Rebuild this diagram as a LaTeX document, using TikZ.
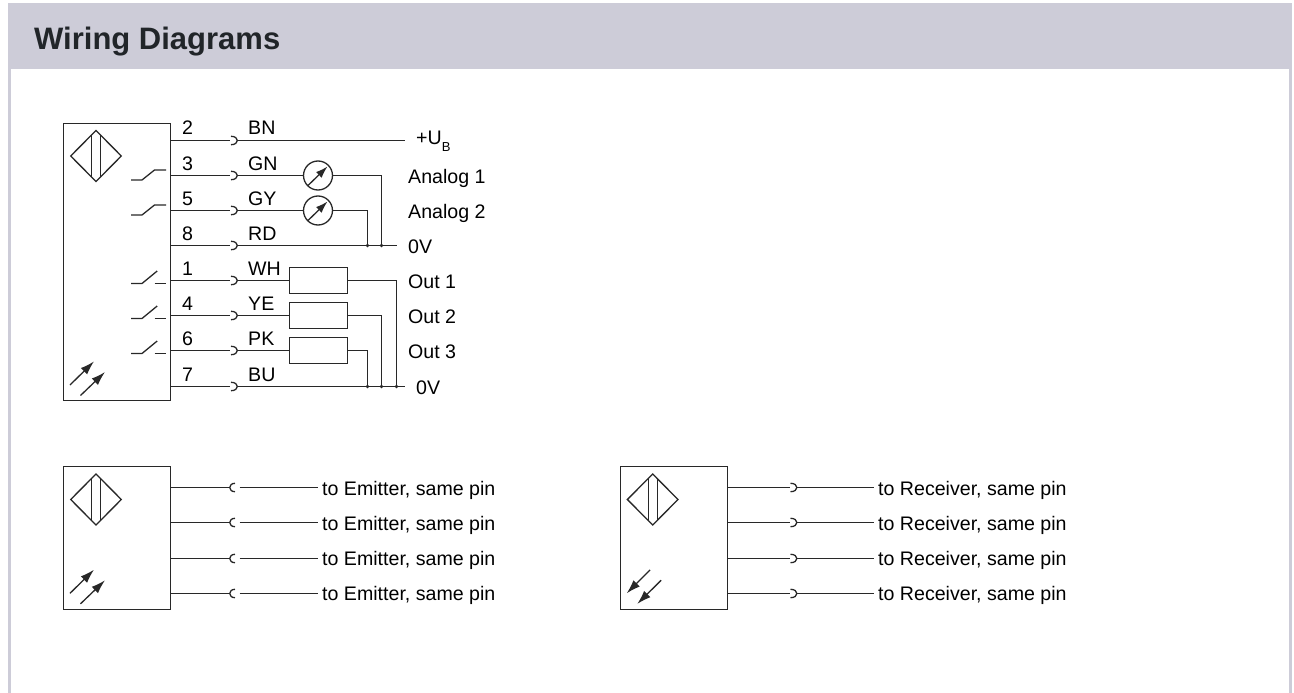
\documentclass[tikz,border=0pt]{standalone}
\usepackage{fontspec}
\setmainfont{Liberation Sans}
\usetikzlibrary{positioning,calc,arrows.meta}
\definecolor{headfill}{RGB}{205,204,216}
\definecolor{headtext}{RGB}{33,37,41}
\definecolor{wirecol}{RGB}{40,40,40}
\tikzset{
	lbl/.style={anchor=base west, inner sep=0pt, text=black, font=\fontsize{19.6}{22}\selectfont},
	sensorbox/.style={draw=wirecol, line width=1.3pt, rectangle, anchor=north west, inner sep=0pt, outer sep=0pt},
	loadbox/.style={draw=wirecol, line width=1.3pt, rectangle, minimum width=58pt, minimum height=26pt, inner sep=0pt},
	meter/.style={draw=wirecol, line width=1.3pt, circle, minimum size=29pt, inner sep=0pt},
	wire/.style={draw=wirecol, line width=1.3pt},
	dot/.style={fill=wirecol, circle, minimum size=3.6pt, inner sep=0pt},
	plugr/.pic={\draw[wire] (0,-4.2) .. controls (8.5,-4.2) and (8.5,4.2) .. (0,4.2);},
	plugl/.pic={\draw[wire] (0,-4.2) .. controls (-7,-4.2) and (-7,4.2) .. (0,4.2);},
	face/.pic={\draw[wire] (-25.3,0) -- (0,-25.5) -- (25.3,0) -- (0,25.5) -- cycle;
		\draw[wire] (-4.5,-20.8) -- (-4.5,20.8);
		\draw[wire] (4.5,-20.8) -- (4.5,20.8);},
	swclosed/.pic={\draw[wire] (-35,4.5) -- (-24,4.5) -- (-11.5,-5.5) -- (0,-5.5);},
	swopen/.pic={\draw[wire] (-35,3) -- (-24,3) -- (-8.8,-9.5);
		\draw[wire] (-11.5,3) -- (0,3);},
	raysout/.pic={\draw[wire,-{Latex[length=14pt,width=9pt]}] (0,0) -- (24,-23.6);
		\draw[wire,-{Latex[length=14pt,width=9pt]}] (10.5,10.5) -- (35,-13);},
	raysin/.pic={\draw[wire,{Latex[length=14pt,width=9pt]}-] (0,0) -- (23.4,-23.4);
		\draw[wire,{Latex[length=14pt,width=9pt]}-] (10.6,10.6) -- (34.4,-13);},
	needle/.pic={\draw[wire,-{Latex[length=12pt,width=8pt]}] (-10,10) -- (9.5,-9);}
}
\begin{document}
\begin{tikzpicture}[x=1pt, y=-1pt]
	\useasboundingbox (0,0) rectangle (1294,693);
	\fill[white] (0,0) rectangle (1294,693);
	\fill[headfill] (7.5,3.3) rectangle (11,693);
	\fill[headfill] (1288.5,3.3) rectangle (1292,693);
	\fill[headfill] (7.5,3.3) rectangle (1292,69);
	\node[anchor=base west, inner sep=0pt, text=headtext, font=\bfseries\fontsize{31}{33}\selectfont] (title) at (34,50) {Wiring Diagrams};

	\node[sensorbox, minimum width=107pt, minimum height=277pt] (main) at (63.5,123.5) {};
	\pic at (96,156) {face};
	\pic at (70,385) {raysout};
	\pic at (166,175.5) {swclosed};
	\pic at (166,210.5) {swclosed};
	\pic at (166,280.5) {swopen};
	\pic at (166,315.5) {swopen};
	\pic at (166,350.5) {swopen};

	\coordinate (p2) at (170.5,140.5);
	\coordinate (p3) at (170.5,175.5);
	\coordinate (p5) at (170.5,210.5);
	\coordinate (p8) at (170.5,245.5);
	\coordinate (p1) at (170.5,280.5);
	\coordinate (p4) at (170.5,315.5);
	\coordinate (p6) at (170.5,350.5);
	\coordinate (p7) at (170.5,386.5);
	\coordinate (u2) at (230,140.5);
	\coordinate (u3) at (230,175.5);
	\coordinate (u5) at (230,210.5);
	\coordinate (u8) at (230,245.5);
	\coordinate (u1) at (230,280.5);
	\coordinate (u4) at (230,315.5);
	\coordinate (u6) at (230,350.5);
	\coordinate (u7) at (230,386.5);
	\coordinate (v2) at (237.4,140.5);
	\coordinate (v3) at (237.4,175.5);
	\coordinate (v5) at (237.4,210.5);
	\coordinate (v8) at (237.4,245.5);
	\coordinate (v1) at (237.4,280.5);
	\coordinate (v4) at (237.4,315.5);
	\coordinate (v6) at (237.4,350.5);
	\coordinate (v7) at (237.4,386.5);

	\node[lbl] (n2) at (182,135) {2};
	\node[lbl] (n3) at (182,170) {3};
	\node[lbl] (n5) at (182,205) {5};
	\node[lbl] (n8) at (182,240) {8};
	\node[lbl] (n1) at (182,275) {1};
	\node[lbl] (n4) at (182,310.5) {4};
	\node[lbl] (n6) at (182,345.5) {6};
	\node[lbl] (n7) at (182,381) {7};

	\node[lbl] (bn) at (248,135) {BN};
	\node[lbl] (gn) at (248,170) {GN};
	\node[lbl] (gy) at (248,205) {GY};
	\node[lbl] (rd) at (248,240) {RD};
	\node[lbl] (wh) at (248,275) {WH};
	\node[lbl] (ye) at (248,310.5) {YE};
	\node[lbl] (pk) at (248,345.5) {PK};
	\node[lbl] (bu) at (248,381) {BU};

	\node[meter] (m1) at (318,175.5) {};
	\node[meter] (m2) at (318,210.5) {};
	\pic at (m1) {needle};
	\pic at (m2) {needle};
	\node[loadbox] (r1) at (318.5,280.5) {};
	\node[loadbox] (r2) at (318.5,315.5) {};
	\node[loadbox] (r3) at (318.5,350.5) {};

	\node[lbl] (ub) at (416,144) {+U\raisebox{-7.5pt}{\fontsize{13}{13}\selectfont B}};
	\node[lbl] (an1) at (408,183.5) {Analog 1};
	\node[lbl] (an2) at (408,218.5) {Analog 2};
	\node[lbl] (zero1) at (408,253.5) {0V};
	\node[lbl] (out1) at (408,288.5) {Out 1};
	\node[lbl] (out2) at (408,323.5) {Out 2};
	\node[lbl] (out3) at (408,358.5) {Out 3};
	\node[lbl] (zero2) at (416,394) {0V};

	\coordinate (e2) at (405,140.5);
	\coordinate (e8) at (397,245.5);
	\coordinate (e7) at (405,386.5);
	\node[dot] (t1) at (381.5,245.5) {};
	\node[dot] (t2) at (367.5,245.5) {};
	\node[dot] (t3) at (396.5,386.5) {};
	\node[dot] (t4) at (381.5,386.5) {};
	\node[dot] (t5) at (367.5,386.5) {};

	\draw[wire] (p2) -- (u2);
	\draw[wire] (p3) -- (u3);
	\draw[wire] (p5) -- (u5);
	\draw[wire] (p8) -- (u8);
	\draw[wire] (p1) -- (u1);
	\draw[wire] (p4) -- (u4);
	\draw[wire] (p6) -- (u6);
	\draw[wire] (p7) -- (u7);
	\draw[wire] (v2) -- (e2);
	\draw[wire] (v3) -- (m1);
	\draw[wire] (v5) -- (m2);
	\draw[wire] (v8) -- (e8);
	\draw[wire] (v1) -- (r1);
	\draw[wire] (v4) -- (r2);
	\draw[wire] (v6) -- (r3);
	\draw[wire] (v7) -- (e7);
	\draw[wire] (m1) -| (t1);
	\draw[wire] (m2) -| (t2);
	\draw[wire] (r1) -| (t3);
	\draw[wire] (r2) -| (t4);
	\draw[wire] (r3) -| (t5);
	\pic at (231,140.5) {plugr};
	\pic at (231,175.5) {plugr};
	\pic at (231,210.5) {plugr};
	\pic at (231,245.5) {plugr};
	\pic at (231,280.5) {plugr};
	\pic at (231,315.5) {plugr};
	\pic at (231,350.5) {plugr};
	\pic at (231,386.5) {plugr};

	\node[sensorbox, minimum width=107pt, minimum height=143pt] (emit) at (63.5,466.5) {};
	\pic at (96,499.5) {face};
	\pic at (70,593.3) {raysout};
	\coordinate (a1) at (170.5,487.5);
	\coordinate (a2) at (170.5,522.5);
	\coordinate (a3) at (170.5,558.5);
	\coordinate (a4) at (170.5,593.5);
	\coordinate (b1) at (230,487.5);
	\coordinate (b2) at (230,522.5);
	\coordinate (b3) at (230,558.5);
	\coordinate (b4) at (230,593.5);
	\coordinate (c1) at (239.5,487.5);
	\coordinate (c2) at (239.5,522.5);
	\coordinate (c3) at (239.5,558.5);
	\coordinate (c4) at (239.5,593.5);
	\node[lbl] (to1) at (322,495) {to Emitter, same pin};
	\node[lbl] (to2) at (322,530) {to Emitter, same pin};
	\node[lbl] (to3) at (322,565) {to Emitter, same pin};
	\node[lbl] (to4) at (322,600.5) {to Emitter, same pin};
	\draw[wire] (a1) -- (b1);
	\draw[wire] (a2) -- (b2);
	\draw[wire] (a3) -- (b3);
	\draw[wire] (a4) -- (b4);
	\draw[wire, shorten >=4pt] (c1) -- (c1 -| to1.west);
	\draw[wire, shorten >=4pt] (c2) -- (c2 -| to2.west);
	\draw[wire, shorten >=4pt] (c3) -- (c3 -| to3.west);
	\draw[wire, shorten >=4pt] (c4) -- (c4 -| to4.west);
	\pic at (235,487.5) {plugl};
	\pic at (235,522.5) {plugl};
	\pic at (235,558.5) {plugl};
	\pic at (235,593.5) {plugl};

	\node[sensorbox, minimum width=107pt, minimum height=143pt] (recv) at (620.5,466.5) {};
	\pic at (652.7,499.5) {face};
	\pic at (626.7,593.3) {raysin};
	\coordinate (f1) at (727.5,487.5);
	\coordinate (f2) at (727.5,522.5);
	\coordinate (f3) at (727.5,558.5);
	\coordinate (f4) at (727.5,593.5);
	\coordinate (g1) at (789.5,487.5);
	\coordinate (g2) at (789.5,522.5);
	\coordinate (g3) at (789.5,558.5);
	\coordinate (g4) at (789.5,593.5);
	\coordinate (h1) at (796.9,487.5);
	\coordinate (h2) at (796.9,522.5);
	\coordinate (h3) at (796.9,558.5);
	\coordinate (h4) at (796.9,593.5);
	\node[lbl] (rc1) at (878,495) {to Receiver, same pin};
	\node[lbl] (rc2) at (878,530) {to Receiver, same pin};
	\node[lbl] (rc3) at (878,565) {to Receiver, same pin};
	\node[lbl] (rc4) at (878,600.5) {to Receiver, same pin};
	\draw[wire] (f1) -- (g1);
	\draw[wire] (f2) -- (g2);
	\draw[wire] (f3) -- (g3);
	\draw[wire] (f4) -- (g4);
	\draw[wire, shorten >=4pt] (h1) -- (h1 -| rc1.west);
	\draw[wire, shorten >=4pt] (h2) -- (h2 -| rc2.west);
	\draw[wire, shorten >=4pt] (h3) -- (h3 -| rc3.west);
	\draw[wire, shorten >=4pt] (h4) -- (h4 -| rc4.west);
	\pic at (790.5,487.5) {plugr};
	\pic at (790.5,522.5) {plugr};
	\pic at (790.5,558.5) {plugr};
	\pic at (790.5,593.5) {plugr};
\end{tikzpicture}
\end{document}
